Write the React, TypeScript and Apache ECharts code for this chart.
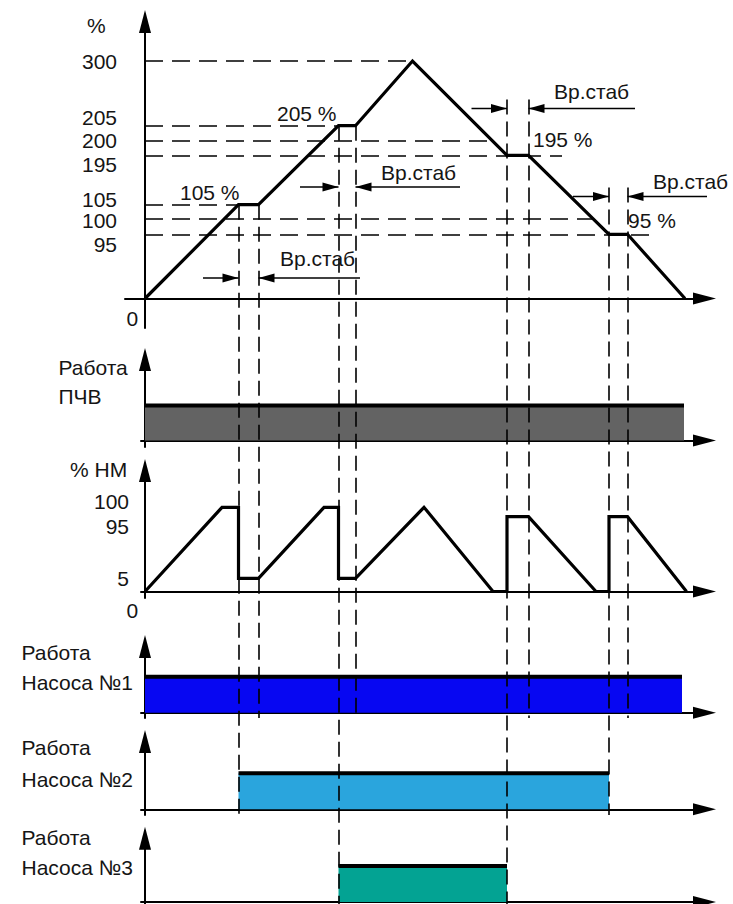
import React, { useEffect, useRef } from 'react';
import * as echarts from 'echarts';

const FONT = "'Liberation Sans', Arial, sans-serif";
const FONT_SIZE = 21;
const TEXT_COLOR = '#151515';

// ---- DATA ----
// time instants (common to every panel) where the stabilisation intervals start/end
const EVENT_T = [93.5, 113.5, 193.5, 210.5, 362, 383.5, 464, 482.5];

// top diagram: required capacity, %
const TOP_T = [0, 93.5, 113.5, 193.5, 210.5, 267.5, 362, 383.5, 464, 482.5, 540];
const TOP_V = [0, 105, 105, 205, 205, 300, 195, 195, 95, 95, 0];
const TOP_TICKS = [0, 95, 100, 105, 195, 200, 205, 300];
// dashed reference levels and the time where each dashed line stops
const GUIDE_LEVELS = [300, 205, 200, 195, 105, 100, 95];
const GUIDE_END_T = [267.5, 193.5, 347, 417, 93.5, 448, 508];
const PLATEAU_LABELS = ['105 %', '205 %', '195 %', '95 %'];
const STAB_LABEL = 'Вр.стаб';

// "% НМ" diagram
const NM_T = [0, 77, 93.5, 93.5, 113.5, 179, 193.5, 193.5, 210.5, 279, 348, 362, 362, 383.5, 451, 464, 464, 482.5, 541.5];
const NM_V = [0, 100, 100, 5, 5, 100, 100, 5, 5, 100, 0, 0, 95, 95, 0, 0, 95, 95, 0];
const NM_TICKS = [0, 5, 95, 100];

// on-intervals (start, end) of the state diagrams
const PCHV_ON = [0, 539];
const PUMP1_ON = [0, 537];
const PUMP2_ON = [93.5, 464];
const PUMP3_ON = [193.5, 362];

const PANEL_NAMES = ['%', 'Работа\nПЧВ', '% НМ', 'Работа\nНасоса №1', 'Работа\nНасоса №2', 'Работа\nНасоса №3'];

// ---- SCALE / LAYOUT (not data) ----
// schematic (non-linear) value axes: px above baseline for each tick value
const TOP_SCALE_POS = [0, 64.2, 79.5, 93.8, 143.2, 157.8, 172.8, 237.5];
const TOP_LABEL_NUDGE = [0, -10.5, -1.5, 5.5, -9.5, 0, 8, 0];
const NM_SCALE_POS = [0, 13.2, 74.8, 84.2];
const NM_LABEL_NUDGE = [0, 0, -10, 5.5];

const X0 = 145;
const X_END = 704.5;
const T_MAX = X_END - X0;
const ARROW_LEN = 23;
const ARROW_W = 12;

type Panel = { tip: number; base: number; low: number; xmin: number; unit: number };
const PANELS: Record<string, Panel> = {
  top: { tip: 10, base: 298.5, low: 328, xmin: -20, unit: 1 },
  pchv: { tip: 348, base: 440.5, low: 447, xmin: -4, unit: 35 },
  nm: { tip: 459, base: 591.5, low: 598, xmin: -4, unit: 1 },
  p1: { tip: 635, base: 712.8, low: 718, xmin: -4, unit: 36 },
  p2: { tip: 730, base: 809.3, low: 815, xmin: -4, unit: 36 },
  p3: { tip: 826.7, base: 902, low: 904, xmin: -4, unit: 36 },
};
const PANEL_KEYS = ['top', 'pchv', 'nm', 'p1', 'p2', 'p3'];
const EVENT_STOP_PANEL = ['p2', 'p1', 'p3', 'p1', 'p3', 'p1', 'p2', 'p1'];

const STAB = [
  { pair: [0, 1], level: 105, y: 278, from: 58, to: 215, labelX: 280, labelY: 258, plX: 180, plY: 192.5 },
  { pair: [2, 3], level: 205, y: 187, from: 155, to: 315, labelX: 381, labelY: 172, plX: 277, plY: 113 },
  { pair: [4, 5], level: 195, y: 108.5, from: 326.5, to: 490, labelX: 554, labelY: 91.5, plX: 533, plY: 139 },
  { pair: [6, 7], level: 95, y: 196.5, from: 428, to: 590, labelX: 653, labelY: 181.5, plX: 628, plY: 220 },
];

const NAME_POS = [
  { x: 87, y: 25, lh: 24 },
  { x: 58.5, y: 367, lh: 29 },
  { x: 70, y: 469, lh: 24 },
  { x: 21.5, y: 652, lh: 30 },
  { x: 21.5, y: 747, lh: 32 },
  { x: 21.5, y: 837, lh: 30 },
];

function interp(v: number, xs: number[], ys: number[]) {
  for (let i = 1; i < xs.length; i++) {
    if (v <= xs[i]) {
      const a = xs[i - 1];
      const b = xs[i];
      return ys[i - 1] + ((v - a) / (b - a)) * (ys[i] - ys[i - 1]);
    }
  }
  return ys[ys.length - 1];
}
const syTop = (v: number) => interp(v, TOP_TICKS, TOP_SCALE_POS);
const syNm = (v: number) => interp(v, NM_TICKS, NM_SCALE_POS);

function labelAxis(ticks: number[], sy: (v: number) => number, nudge: number[], margin: number) {
  const items = ticks.map((v, i) => ({ v, pos: sy(v) + nudge[i] })).filter((d) => d.v !== 0);
  return {
    show: true,
    customValues: items.map((d) => d.pos),
    formatter: (val: number) => {
      let best = items[0];
      for (const d of items) if (Math.abs(d.pos - val) < Math.abs(best.pos - val)) best = d;
      return String(best.v);
    },
    margin,
    fontSize: FONT_SIZE,
    fontFamily: FONT,
    color: TEXT_COLOR,
  };
}

function text(t: string, left: number, cy: number, lh = 24) {
  return {
    text: t,
    left,
    top: cy - lh / 2,
    padding: 0,
    textStyle: { fontSize: FONT_SIZE, fontFamily: FONT, fontWeight: 'normal', color: TEXT_COLOR, lineHeight: lh },
  };
}

function buildOption() {
  const axisLine = {
    show: true,
    onZero: true,
    symbol: ['none', 'triangle'],
    symbolSize: [ARROW_W, ARROW_LEN],
    lineStyle: { color: '#000', width: 2 },
  };

  const grids: any[] = PANEL_KEYS.map((k) => {
    const p = PANELS[k];
    const top = p.tip + ARROW_LEN / 2;
    return { left: X0 + p.xmin, width: T_MAX - p.xmin, top, height: p.low - top, outerBoundsMode: 'none', containLabel: false };
  });
  grids.push({ left: X0 - 20, width: T_MAX + 20, top: 0, height: 904, outerBoundsMode: 'none', containLabel: false });

  const xAxes: any[] = PANEL_KEYS.map((k, i) => ({
    type: 'value',
    gridIndex: i,
    min: PANELS[k].xmin,
    max: T_MAX,
    axisLine,
    axisTick: { show: false },
    axisLabel: { show: false },
    splitLine: { show: false },
  }));
  xAxes.push({ type: 'value', gridIndex: 6, min: -20, max: T_MAX, show: false, splitLine: { show: false } });

  const yAxes: any[] = PANEL_KEYS.map((k, i) => {
    const p = PANELS[k];
    const top = p.tip + ARROW_LEN / 2;
    let axisLabel: any = { show: false };
    if (k === 'top') axisLabel = labelAxis(TOP_TICKS, syTop, TOP_LABEL_NUDGE, 8);
    if (k === 'nm') axisLabel = labelAxis(NM_TICKS, syNm, NM_LABEL_NUDGE, 12);
    return {
      type: 'value',
      gridIndex: i,
      min: -(p.low - p.base) / p.unit,
      max: (p.base - top) / p.unit,
      axisLine,
      axisTick: { show: false },
      axisLabel,
      splitLine: { show: false },
    };
  });
  yAxes.push({ type: 'value', gridIndex: 6, min: 0, max: 904, inverse: true, show: false, splitLine: { show: false } });

  const series: any[] = [];
  // dashed reference levels in the top diagram
  series.push({
    type: 'lines',
    coordinateSystem: 'cartesian2d',
    xAxisIndex: 0,
    yAxisIndex: 0,
    silent: true,
    z: 2,
    lineStyle: { color: '#000', width: 1.6, type: [18, 9], opacity: 1, curveness: 0 },
    data: GUIDE_LEVELS.map((v, i) => ({ coords: [[0, syTop(v)], [GUIDE_END_T[i], syTop(v)]] })),
  });
  series.push({
    type: 'line',
    xAxisIndex: 0,
    yAxisIndex: 0,
    silent: true,
    z: 6,
    symbol: 'none',
    lineStyle: { color: '#000', width: 3.2, join: 'miter' },
    data: TOP_T.map((t, i) => [t, syTop(TOP_V[i])]),
  });

  const bar = (idx: number, on: number[], color: string) => ({
    type: 'line',
    xAxisIndex: idx,
    yAxisIndex: idx,
    silent: true,
    z: 2,
    symbol: 'none',
    lineStyle: { color: '#000', width: 4 },
    areaStyle: { color, opacity: 1 },
    data: [[on[0], 1], [on[1], 1]],
  });
  series.push(bar(1, PCHV_ON, '#636363'));
  series.push({
    type: 'line',
    xAxisIndex: 2,
    yAxisIndex: 2,
    silent: true,
    z: 6,
    symbol: 'none',
    lineStyle: { color: '#000', width: 3.2, join: 'miter' },
    data: NM_T.map((t, i) => [t, syNm(NM_V[i])]),
  });
  series.push(bar(3, PUMP1_ON, '#0707f2'));
  series.push(bar(4, PUMP2_ON, '#2aa5dd'));
  series.push(bar(5, PUMP3_ON, '#03a393'));

  // vertical dashed event lines (page-pixel overlay)
  const levelY = (v: number) => PANELS.top.base - syTop(v);
  series.push({
    type: 'lines',
    coordinateSystem: 'cartesian2d',
    xAxisIndex: 6,
    yAxisIndex: 6,
    silent: true,
    z: 4,
    lineStyle: { color: '#000', width: 1.6, type: [15, 7], opacity: 1, curveness: 0 },
    data: EVENT_T.map((t, i) => {
      const s = STAB[Math.floor(i / 2)];
      const top = Math.min(levelY(s.level), s.y - 9);
      return { coords: [[t, top], [t, PANELS[EVENT_STOP_PANEL[i]].low]] };
    }),
  });

  const arrow = (from: number, tip: number, y: number, dir: number) => ({
    type: 'line',
    xAxisIndex: 6,
    yAxisIndex: 6,
    silent: true,
    clip: false,
    z: 5,
    symbol: 'triangle',
    showSymbol: true,
    lineStyle: { color: '#000', width: 1.6 },
    itemStyle: { color: '#000', borderWidth: 0 },
    data: [
      { value: [from, y], symbol: 'none' },
      { value: [tip, y], symbol: 'triangle', symbolSize: [9, 16], symbolRotate: dir > 0 ? -90 : 90, symbolOffset: [-8 * dir, 0] },
    ],
  });
  STAB.forEach((s) => {
    series.push(arrow(s.from, EVENT_T[s.pair[0]], s.y, 1));
    series.push(arrow(s.to, EVENT_T[s.pair[1]], s.y, -1));
  });

  const titles: any[] = [];
  PANEL_NAMES.forEach((n, i) => titles.push(text(n, NAME_POS[i].x, NAME_POS[i].y, NAME_POS[i].lh)));
  titles.push(text('0', 126.5, 318));
  titles.push(text('0', 126.5, 610));
  STAB.forEach((s, i) => {
    titles.push(text(STAB_LABEL, s.labelX, s.labelY));
    titles.push(text(PLATEAU_LABELS[i], s.plX, s.plY));
  });

  return {
    animation: false,
    backgroundColor: '#ffffff',
    title: titles,
    grid: grids,
    xAxis: xAxes,
    yAxis: yAxes,
    series,
  };
}

export default function App() {
  const ref = useRef<HTMLDivElement>(null);
  useEffect(() => {
    if (!ref.current) return;
    const chart = echarts.init(ref.current, null, { renderer: 'svg' });
    chart.setOption(buildOption() as any);
    return () => chart.dispose();
  }, []);
  return <div ref={ref} style={{ position: 'absolute', left: 0, top: 0, width: 733, height: 904 }} />;
}
